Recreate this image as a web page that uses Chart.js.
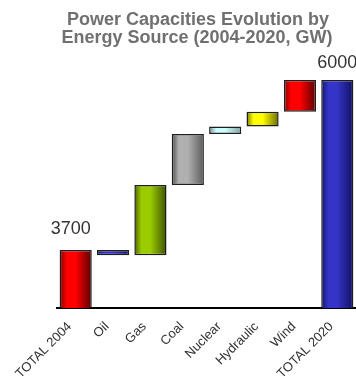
<!DOCTYPE html>
<html>
<head>
<meta charset="utf-8">
<title>Power Capacities Evolution by Energy Source</title>
<script src="https://cdn.jsdelivr.net/npm/chart.js@4/dist/chart.umd.min.js"></script>
<style>
  html, body { margin: 0; padding: 0; background: #ffffff; }
  #wrap { width: 356px; height: 379px; }
</style>
</head>
<body>
<div id="wrap"><canvas id="chart" width="356" height="379"></canvas></div>
<script>
// Waterfall of installed power capacity, 2004 -> 2020 (GW)
const categories = ['TOTAL 2004', 'Oil', 'Gas', 'Coal', 'Nuclear', 'Hydraulic', 'Wind', 'TOTAL 2020'];
const startTotal = 3700;
const sourceChanges = [-70, 950, 690, 100, 200, 430];   // Oil .. Wind
const endTotal = 6000;
const titleLines = ['Power Capacities Evolution by', 'Energy Source (2004-2020, GW)'];

// colour of each bar: [edge, centre, far edge]
const barShades = [
  ['#7a0000', '#ff0000', '#5a0000'],
  ['#14146e', '#3333c8', '#101060'],
  ['#4c6400', '#9acc00', '#3e5200'],
  ['#4a4a4a', '#b0b0b0', '#5c5c5c'],
  ['#6e9090', '#ccffff', '#7fa0a0'],
  ['#7a7a00', '#ffff00', '#6a6a00'],
  ['#7a0000', '#ff0000', '#5a0000'],
  ['#15156e', '#3434c8', '#101060']
];

// floating ranges built from the running total
const ranges = [[0, startTotal]];
let running = startTotal;
sourceChanges.forEach(d => {
  const next = running + d;
  ranges.push([Math.min(running, next), Math.max(running, next)]);
  running = next;
});
ranges.push([0, endTotal]);

const BAR_PCT = 0.86;
const FONT = "'Liberation Sans', Arial, Helvetica, sans-serif";

function barFill(ctx) {
  const shades = barShades[ctx.dataIndex] || barShades[0];
  const chart = ctx.chart;
  if (!chart.chartArea || !chart.scales.x) return shades[1];
  const xs = chart.scales.x;
  const cx = xs.getPixelForValue(ctx.dataIndex);
  const w = (xs.width / categories.length) * BAR_PCT;
  const g = chart.ctx.createLinearGradient(cx - w / 2, 0, cx + w / 2, 0);
  g.addColorStop(0, shades[0]);
  g.addColorStop(0.22, shades[1]);
  g.addColorStop(0.5, shades[1]);
  g.addColorStop(1, shades[2]);
  return g;
}

const titlePlugin = {
  id: 'twoLineTitle',
  afterDraw(chart) {
    const c = chart.ctx;
    c.save();
    c.font = 'bold 18px ' + FONT;
    c.fillStyle = '#707070';
    c.textAlign = 'center';
    c.textBaseline = 'alphabetic';
    c.fillText(titleLines[0], 198, 25);
    c.fillText(titleLines[1], 197, 43);
    c.restore();
  }
};

const totalsPlugin = {
  id: 'totalLabels',
  afterDatasetsDraw(chart) {
    const meta = chart.getDatasetMeta(0);
    const c = chart.ctx;
    c.save();
    c.font = '18px ' + FONT;
    c.fillStyle = '#333333';
    c.textAlign = 'center';
    c.textBaseline = 'alphabetic';
    const first = meta.data[0];
    const last = meta.data[meta.data.length - 1];
    c.fillText(String(startTotal), first.x - 5, first.y - 16);
    c.fillText(String(endTotal), last.x, last.y - 12);
    c.restore();
  }
};

new Chart(document.getElementById('chart'), {
  type: 'bar',
  data: {
    labels: categories,
    datasets: [{
      data: ranges,
      backgroundColor: barFill,
      borderColor: '#1e1e1e',
      borderWidth: 1.5,
      borderSkipped: false,
      barPercentage: BAR_PCT,
      categoryPercentage: 1
    }]
  },
  options: {
    responsive: false,
    animation: false,
    devicePixelRatio: 1,
    layout: { padding: { top: 80, left: 57, right: 0, bottom: 0 } },
    plugins: {
      legend: { display: false },
      title: { display: false },
      tooltip: { enabled: false }
    },
    scales: {
      x: {
        grid: { display: false, drawTicks: false },
        border: { display: true, color: '#000000', width: 2 },
        afterFit(scale) {
          scale.height = 71;
          scale.paddingLeft = 0;
          scale.paddingRight = 0;
        },
        ticks: {
          minRotation: 45,
          maxRotation: 45,
          padding: 11,
          labelOffset: -6,
          color: '#333333',
          font: { family: FONT, size: 13 }
        }
      },
      y: {
        display: false,
        min: 2915,
        max: 6000
      }
    }
  },
  plugins: [titlePlugin, totalsPlugin]
});
</script>
</body>
</html>
